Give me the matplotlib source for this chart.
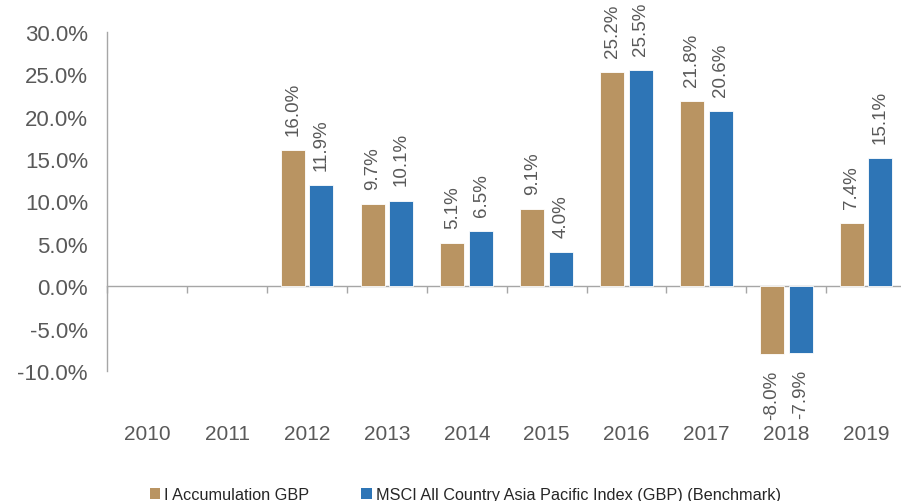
import numpy as np
import matplotlib.pyplot as plt
from matplotlib.patches import Patch
from matplotlib.ticker import FuncFormatter, FixedLocator

plt.rcParams['font.family'] = ['Liberation Sans', 'DejaVu Sans']

# data
years = ['2010', '2011', '2012', '2013', '2014', '2015', '2016', '2017', '2018', '2019']
fund = [np.nan, np.nan, 16.0, 9.7, 5.1, 9.1, 25.2, 21.8, -8.0, 7.4]
bench = [np.nan, np.nan, 11.9, 10.1, 6.5, 4.0, 25.5, 20.6, -7.9, 15.1]
series_names = ['I Accumulation GBP', 'MSCI All Country Asia Pacific Index (GBP) (Benchmark)']
colors = ['#B99462', '#2E75B6']

W, H = 901, 502
fig = plt.figure(figsize=(W / 100, H / 100), dpi=100)
left, right, top, bottom = 107.4, 906, 32.7, 372
ax = fig.add_axes([left / W, 1 - bottom / H, (right - left) / W, (bottom - top) / H])

x = np.arange(len(years))
bw = 0.30
off = 0.18
gray = '#595959'

for vals, dx, c in [(fund, -off, colors[0]), (bench, off, colors[1])]:
    ax.bar(x + dx, vals, width=bw, color=c, edgecolor='white', linewidth=0.6, zorder=3)
    for xi, v in zip(x + dx, vals):
        if np.isnan(v):
            continue
        if v >= 0:
            ax.annotate(f'{v:.1f}%', (xi, v), xytext=(0, 11), textcoords='offset points',
                        rotation=90, ha='center', va='bottom', fontsize=13.5, color=gray)
        else:
            ax.annotate(f'{v:.1f}%', (xi, v), xytext=(0, -11), textcoords='offset points',
                        rotation=90, ha='center', va='top', fontsize=13.5, color=gray)

ax.set_xlim(-0.5, len(years) - 0.5)
ax.set_ylim(-10, 30)
ax.set_yticks(np.arange(-10, 31, 5))
ax.yaxis.set_major_formatter(FuncFormatter(lambda v, p: f'{v:.1f}%'))
ax.tick_params(axis='y', length=0, pad=14, labelsize=16, labelcolor=gray)

ax.set_xticks(x)
ax.set_xticklabels(years)
ax.tick_params(axis='x', length=0, pad=38, labelsize=15, labelcolor=gray)

for s in ['top', 'right', 'bottom']:
    ax.spines[s].set_visible(False)
ax.spines['left'].set_color('#A6A6A6')
ax.spines['left'].set_linewidth(1)

# zero line with boundary ticks
sec = ax.secondary_xaxis(0.25)
sec.xaxis.set_major_locator(FixedLocator(np.arange(-0.5, len(years), 1.0)))
sec.set_xticklabels([])
sec.tick_params(length=5, color='#A6A6A6', width=1)
sec.spines['bottom'].set_color('#A6A6A6')
sec.spines['bottom'].set_linewidth(1)

handles = [Patch(facecolor=c, edgecolor='none') for c in colors]
fig.legend(handles, series_names, loc='center left', bbox_to_anchor=(143 / W, 1 - 496 / H),
           ncol=2, frameon=False, fontsize=11.7, handlelength=0.65, handleheight=0.65,
           handletextpad=0.25, columnspacing=3.2, labelcolor='#262626', borderaxespad=0)

fig.savefig('out.png', dpi=100)
